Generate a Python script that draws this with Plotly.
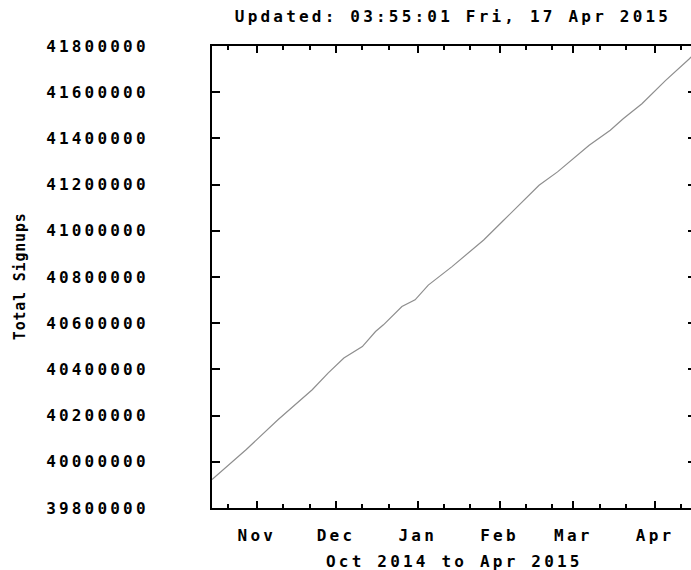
import plotly.graph_objects as go

# ---- data ----
dates = ["2014-10-15", "2014-10-28", "2014-11-09", "2014-11-22", "2014-11-28",
         "2014-12-04", "2014-12-11", "2014-12-16", "2014-12-19", "2014-12-26",
         "2014-12-31", "2015-01-05", "2015-01-14", "2015-01-26", "2015-02-02",
         "2015-02-14", "2015-02-16", "2015-02-23", "2015-03-02", "2015-03-07",
         "2015-03-15", "2015-03-20", "2015-03-27", "2015-04-05", "2015-04-14",
         "2015-04-17"]
signups = [39923000, 40053000, 40182000, 40312000, 40384000,
           40449000, 40499000, 40564000, 40593000, 40672000,
           40701000, 40765000, 40845000, 40960000, 41039000,
           41176000, 41197000, 41255000, 41320000, 41370000,
           41435000, 41486000, 41550000, 41651000, 41745000,
           41778000]

month_ticks = ["2014-11-01", "2014-12-01", "2015-01-01", "2015-02-01",
               "2015-03-01", "2015-04-01"]
month_labels = ["Nov", "Dec", "Jan", "Feb", "Mar", "Apr"]
minor_ticks = ["2014-10-21", "2014-11-11", "2014-11-21", "2014-12-11",
               "2014-12-21", "2015-01-11", "2015-01-21", "2015-02-11",
               "2015-02-21", "2015-03-11", "2015-03-21", "2015-04-11"]
y_ticks = [39800000, 40000000, 40200000, 40400000, 40600000, 40800000,
           41000000, 41200000, 41400000, 41600000, 41800000]

title_text = "Updated: 03:55:01 Fri, 17 Apr 2015"
x_title = "Oct 2014 to Apr 2015"
y_title = "Total Signups"

FONT = "DejaVu Sans Mono"
W, H = 700, 570
L, R, T, B = 212, 2, 46, 62
X_RANGE = ["2014-10-15", "2015-04-16 12:00"]
Y_RANGE = [39800000, 41800000]
tfont = dict(family=FONT, size=16, color="black", weight=700)

fig = go.Figure()
fig.add_trace(go.Scatter(
    x=dates, y=signups, mode="lines",
    line=dict(color="#8e8e8e", width=1.2),
    hoverinfo="skip", showlegend=False,
))
# invisible trace to activate the minor-tick axis
fig.add_trace(go.Scatter(x=[dates[0]], y=[signups[0]], xaxis="x2",
                         mode="markers", marker=dict(opacity=0),
                         hoverinfo="skip", showlegend=False))

fig.update_layout(
    width=W, height=H,
    margin=dict(l=L, r=R, t=T, b=B, pad=0),
    paper_bgcolor="white", plot_bgcolor="white",
    font=tfont,
    title=dict(text=title_text, x=453 / W, xanchor="center",
               y=1 - 16 / H, yanchor="middle", font=tfont),
    xaxis=dict(
        range=X_RANGE,
        tickmode="array", tickvals=month_ticks, ticktext=month_labels,
        ticks="inside", ticklen=7, tickwidth=2, tickcolor="black",
        showline=True, linecolor="black", linewidth=2, mirror="ticks",
        showgrid=False, zeroline=False,
        ticklabelstandoff=12, tickfont=tfont,
    ),
    xaxis2=dict(
        overlaying="x", matches="x", range=X_RANGE, side="bottom",
        tickmode="array", tickvals=minor_ticks, showticklabels=False,
        ticks="inside", ticklen=4, tickwidth=2, tickcolor="black",
        showline=True, linecolor="black", linewidth=2, mirror="ticks",
        showgrid=False, zeroline=False,
    ),
    yaxis=dict(
        range=Y_RANGE,
        tickmode="array", tickvals=y_ticks,
        ticktext=[str(v) for v in y_ticks],
        ticks="inside", ticklen=8, tickwidth=2, tickcolor="black",
        showline=True, linecolor="black", linewidth=2, mirror="ticks",
        showgrid=False, zeroline=False,
        ticklabelstandoff=58, tickfont=tfont,
    ),
    annotations=[
        dict(text=x_title, xref="paper", yref="paper", x=0.5, y=0,
             xanchor="center", yanchor="middle", yshift=-53, showarrow=False,
             font=tfont),
        dict(text=y_title, xref="paper", yref="paper", x=0, y=0.5,
             xanchor="center", yanchor="middle", xshift=20 - L, showarrow=False,
             textangle=-90,
             font=dict(family=FONT, size=15, color="black", weight=700)),
    ],
)

post = """
document.body.style.margin = '0';
document.body.style.overflow = 'hidden';
var gd = document.getElementById('{plot_id}');
gd.querySelectorAll('text').forEach(function (t) {
  if (t.textContent === 'Total Signups') { t.style.letterSpacing = '0.8px'; }
  else { t.style.letterSpacing = '3.2px'; }
});
"""

fig.write_html("out.html", post_script=post, config={"staticPlot": True})
